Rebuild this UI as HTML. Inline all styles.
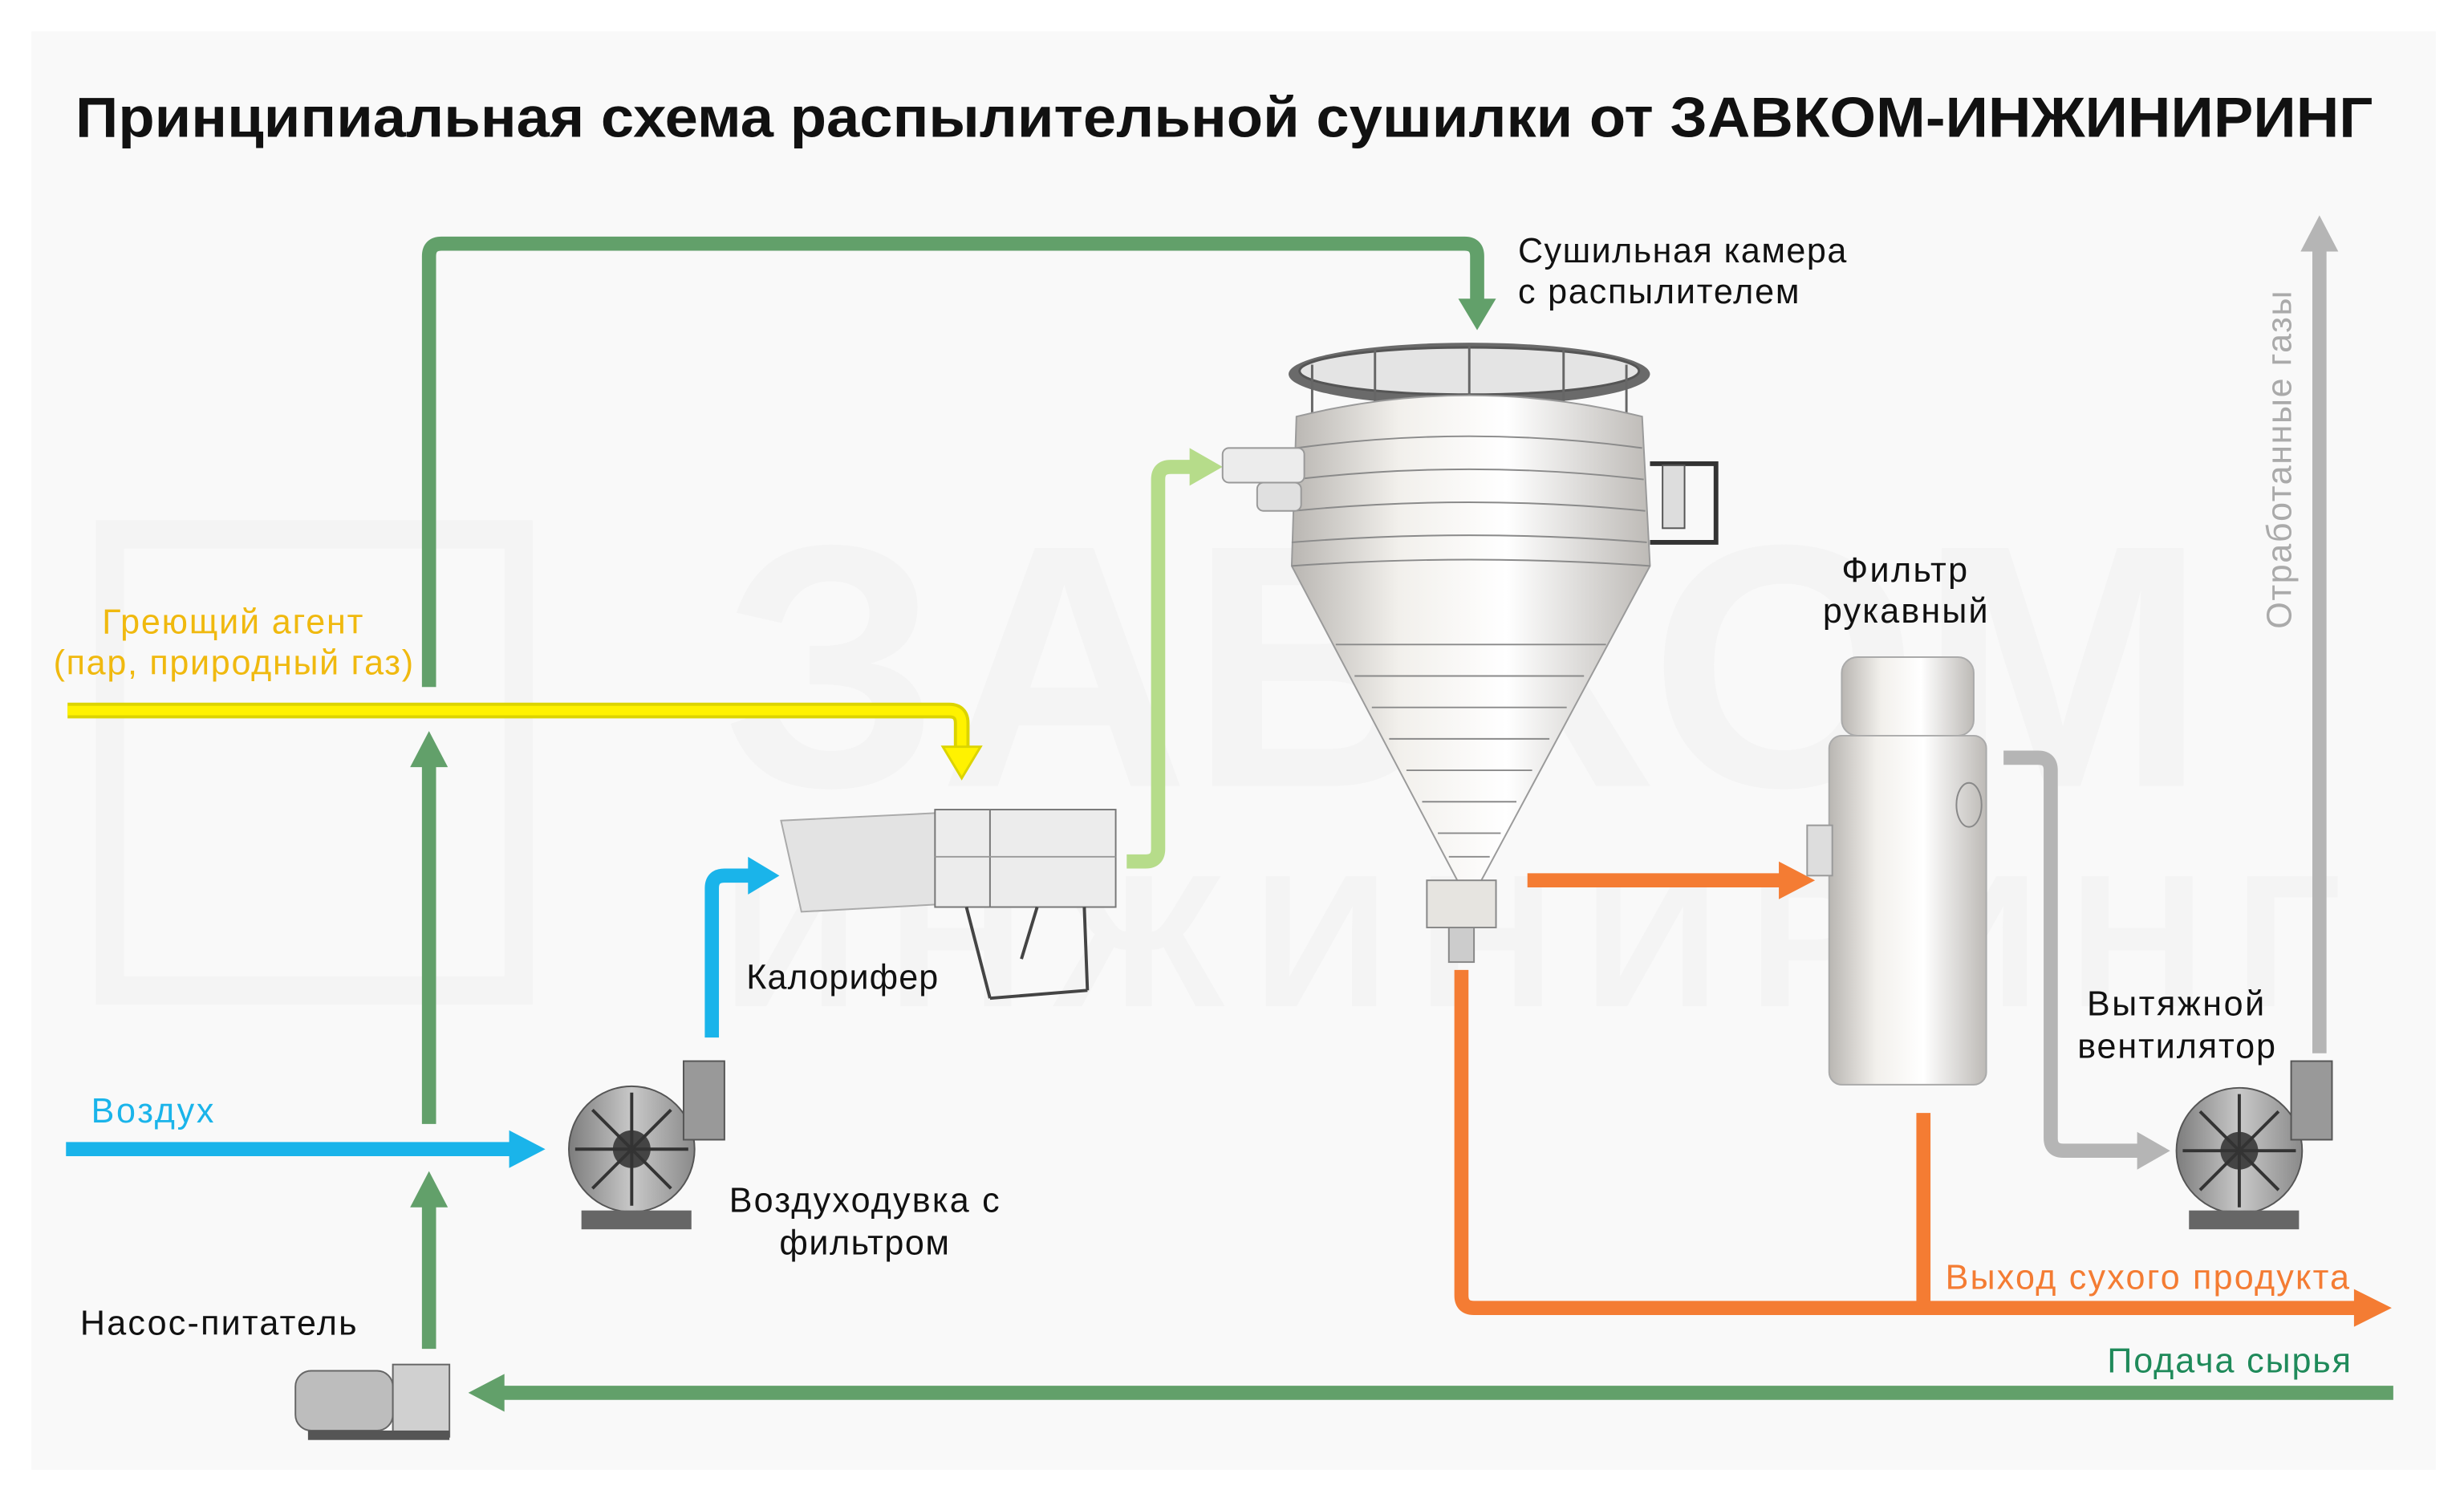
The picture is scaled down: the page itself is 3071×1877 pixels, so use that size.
<!DOCTYPE html>
<html><head><meta charset="utf-8"><style>
html,body{margin:0;padding:0;background:#fff;}
svg{display:block;}
text{font-family:"Liberation Sans",sans-serif;}
</style></head><body>
<svg width="3071" height="1877" viewBox="0 0 1568 958" preserveAspectRatio="none" xmlns="http://www.w3.org/2000/svg">
<defs>
<linearGradient id="body" x1="0" x2="1" y1="0" y2="0">
<stop offset="0" stop-color="#b9b6b2"/><stop offset="0.3" stop-color="#f2f0ec"/><stop offset="0.6" stop-color="#ffffff"/><stop offset="1" stop-color="#bdbab6"/>
</linearGradient>
<linearGradient id="fan" x1="0" x2="1"><stop offset="0" stop-color="#7d7d7d"/><stop offset="0.5" stop-color="#c8c8c8"/><stop offset="1" stop-color="#8a8a8a"/></linearGradient>
</defs>
<rect width="1568" height="958" fill="#ffffff"/>
<rect x="20" y="20" width="1530" height="915" fill="#f9f9f9"/>
<!-- watermark -->
<text x="460" y="500" font-size="220" font-weight="bold" fill="#f4f4f4">ЗАВКОМ</text>
<text x="460" y="640" font-size="120" font-weight="bold" fill="#f4f4f4" textLength="1030">ИНЖИНИРИНГ</text>
<path d="M70 340 L330 340 L330 630 L70 630 Z" fill="none" stroke="#f4f4f4" stroke-width="18"/>

<text x="48" y="87" font-size="36" font-weight="bold" fill="#111" textLength="1462" lengthAdjust="spacingAndGlyphs">Принципиальная схема распылительной сушилки от ЗАВКОМ-ИНЖИНИРИНГ</text>

<path d="M273 437 L273 163 Q273 155 281 155 L932 155 Q940 155 940 163 L940 195" fill="none" stroke="#62a06a" stroke-width="9"/>
<polygon points="928,190 952,190 940,210" fill="#62a06a"/>
<path d="M43 452 L604 452 Q612 452 612 460 L612 478" fill="none" stroke="#dcd400" stroke-width="10"/>
<path d="M43 452 L604 452 Q612 452 612 460 L612 478" fill="none" stroke="#fff200" stroke-width="6"/>
<polygon points="600,475 624,475 612,495" fill="#fff200" stroke="#dcd400" stroke-width="1.5"/>
<line x1="273" y1="715" x2="273" y2="485" stroke="#62a06a" stroke-width="9"/>
<polygon points="261,488 285,488 273,465" fill="#62a06a"/>
<line x1="273" y1="858" x2="273" y2="765" stroke="#62a06a" stroke-width="9"/>
<polygon points="261,768 285,768 273,745" fill="#62a06a"/>
<line x1="42" y1="731" x2="327" y2="731" stroke="#1ab4ea" stroke-width="9"/>
<polygon points="324,719 324,743 347,731" fill="#1ab4ea"/>
<path d="M453 660 L453 565 Q453 557 461 557 L478 557" fill="none" stroke="#1ab4ea" stroke-width="9"/>
<polygon points="476,545 476,569 496,557" fill="#1ab4ea"/>
<path d="M717 548 L729 548 Q737 548 737 540 L737 305 Q737 297 745 297 L760 297" fill="none" stroke="#b6dc8a" stroke-width="9"/>
<polygon points="757,285 757,309 778,297" fill="#b6dc8a"/>
<line x1="972" y1="560" x2="1135" y2="560" stroke="#f47c33" stroke-width="9"/>
<polygon points="1132,548 1132,572 1155,560" fill="#f47c33"/>
<path d="M930 617 L930 824 Q930 832 938 832 L1500 832" fill="none" stroke="#f47c33" stroke-width="9"/>
<line x1="1224" y1="708" x2="1224" y2="832" stroke="#f47c33" stroke-width="9"/>
<polygon points="1498,820 1498,844 1522,832" fill="#f47c33"/>
<path d="M1275 482 L1297 482 Q1305 482 1305 490 L1305 724 Q1305 732 1313 732 L1362 732" fill="none" stroke="#b5b5b5" stroke-width="9"/>
<polygon points="1360,720 1360,744 1381,732" fill="#b5b5b5"/>
<line x1="1476" y1="670" x2="1476" y2="155" stroke="#b5b5b5" stroke-width="9"/>
<polygon points="1464,160 1488,160 1476,137" fill="#b5b5b5"/>
<line x1="1523" y1="886" x2="318" y2="886" stroke="#62a06a" stroke-width="9"/>
<polygon points="321,874 321,898 298,886" fill="#62a06a"/>

<!-- spray chamber -->
<ellipse cx="935" cy="238" rx="115" ry="20" fill="#6a6a6a"/>
<ellipse cx="935" cy="236" rx="108" ry="15" fill="#e4e4e4" stroke="#555" stroke-width="1.5"/>
<g stroke="#666" stroke-width="1.5"><line x1="875" y1="222" x2="875" y2="262"/><line x1="935" y1="220" x2="935" y2="262"/><line x1="995" y1="222" x2="995" y2="262"/><line x1="835" y1="232" x2="835" y2="268"/><line x1="1035" y1="232" x2="1035" y2="268"/></g>
<path d="M825 265 Q935 238 1045 265 L1050 360 L940 565 L930 565 L822 360 Z" fill="url(#body)" stroke="#9a9a9a" stroke-width="1"/>
<g stroke="#8a8a8a" stroke-width="1" fill="none">
<path d="M825 285 Q935 270 1045 285"/><path d="M824 305 Q935 292 1046 305"/><path d="M823 325 Q935 314 1047 325"/><path d="M822 345 Q935 336 1048 345"/><path d="M822 360 Q935 352 1050 360"/>
<path d="M850 410 L1022 410"/><path d="M862 430 L1008 430"/><path d="M873 450 L997 450"/><path d="M884 470 L986 470"/><path d="M895 490 L975 490"/><path d="M905 510 L965 510"/><path d="M915 530 L955 530"/><path d="M922 545 L948 545"/>
</g>
<rect x="908" y="560" width="44" height="30" fill="#e6e4e0" stroke="#888"/>
<rect x="922" y="590" width="16" height="22" fill="#ccc" stroke="#888"/>
<rect x="778" y="285" width="52" height="22" rx="4" fill="#ececec" stroke="#999"/>
<rect x="800" y="307" width="28" height="18" rx="4" fill="#e0e0e0" stroke="#999"/>
<path d="M1050 295 L1092 295 L1092 345 L1050 345" fill="none" stroke="#333" stroke-width="3"/>
<rect x="1058" y="296" width="14" height="40" fill="#ddd" stroke="#555"/>
<!-- calorifer -->
<polygon points="497,522 600,517 603,575 510,580" fill="#e3e3e3" stroke="#aaa"/>
<rect x="595" y="515" width="115" height="62" fill="#ececec" stroke="#777"/>
<line x1="630" y1="515" x2="630" y2="577" stroke="#777"/>
<line x1="595" y1="545" x2="710" y2="545" stroke="#999"/>
<path d="M615 577 L630 635 M690 577 L692 630 M630 635 L692 630 M660 577 L650 610" stroke="#444" stroke-width="2" fill="none"/>
<!-- filter -->
<rect x="1172" y="418" width="84" height="50" rx="10" fill="url(#body)" stroke="#aaa"/>
<rect x="1164" y="468" width="100" height="222" rx="8" fill="url(#body)" stroke="#aaa"/>
<ellipse cx="1253" cy="512" rx="8" ry="14" fill="none" stroke="#888"/>
<rect x="1150" y="525" width="16" height="32" fill="#ddd" stroke="#999"/>
<!-- fans -->
<g>
<circle cx="402" cy="731" r="40" fill="url(#fan)" stroke="#555"/>
<rect x="435" y="675" width="26" height="50" fill="#999" stroke="#555"/>
<circle cx="402" cy="731" r="12" fill="#444"/>
<g stroke="#333" stroke-width="2"><line x1="402" y1="695" x2="402" y2="767"/><line x1="366" y1="731" x2="438" y2="731"/><line x1="377" y1="706" x2="427" y2="756"/><line x1="377" y1="756" x2="427" y2="706"/></g>
<rect x="370" y="770" width="70" height="12" fill="#666"/>
</g>
<g>
<circle cx="1425" cy="732" r="40" fill="url(#fan)" stroke="#555"/>
<rect x="1458" y="675" width="26" height="50" fill="#999" stroke="#555"/>
<circle cx="1425" cy="732" r="12" fill="#444"/>
<g stroke="#333" stroke-width="2"><line x1="1425" y1="696" x2="1425" y2="768"/><line x1="1389" y1="732" x2="1461" y2="732"/><line x1="1400" y1="707" x2="1450" y2="757"/><line x1="1400" y1="757" x2="1450" y2="707"/></g>
<rect x="1393" y="770" width="70" height="12" fill="#666"/>
</g>
<!-- pump -->
<rect x="188" y="872" width="62" height="38" rx="10" fill="#bdbdbd" stroke="#666"/>
<rect x="250" y="868" width="36" height="46" fill="#d0d0d0" stroke="#666"/>
<rect x="196" y="910" width="90" height="6" fill="#555"/>

<g font-size="22" fill="#111">
<text x="966" y="167" textLength="209">Сушильная камера</text>
<text x="966" y="193" textLength="179">с распылителем</text>
<text x="1172" y="370" textLength="80">Фильтр</text>
<text x="1160" y="396" textLength="105">рукавный</text>
<text x="475" y="629" textLength="122">Калорифер</text>
<text x="464" y="771" textLength="172">Воздуходувка с</text>
<text x="496" y="798" textLength="108">фильтром</text>
<text x="1328" y="646" textLength="113">Вытяжной</text>
<text x="1322" y="673" textLength="126">вентилятор</text>
<text x="51" y="849" textLength="176">Насос-питатель</text>
</g>
<text x="65" y="403" font-size="22" fill="#f0b90f" textLength="166">Греющий агент</text>
<text x="34" y="429" font-size="22" fill="#f0b90f" textLength="229">(пар, природный газ)</text>
<text x="58" y="714" font-size="22" fill="#1ab4ea" textLength="78">Воздух</text>
<text x="1238" y="820" font-size="22" fill="#f47c33" textLength="257">Выход сухого продукта</text>
<text x="1341" y="873" font-size="22" fill="#1f8a5a" textLength="155">Подача сырья</text>
<text transform="translate(1458,400) rotate(-90)" font-size="22" fill="#aaaaaa" textLength="215">Отработанные газы</text>
</svg>
</body></html>
